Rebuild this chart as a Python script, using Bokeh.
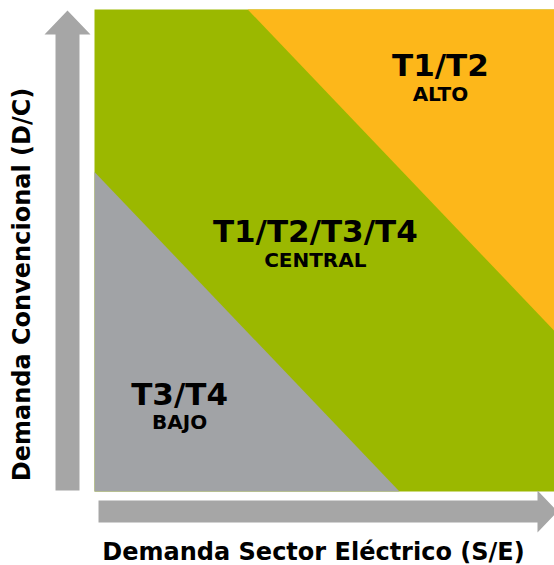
import math
from bokeh.plotting import figure
from bokeh.models import Range1d, ColumnDataSource
from bokeh.core.properties import value
from bokeh.embed import file_html
from bokeh.resources import INLINE

# ---- data (demand space normalised 0..1 on both axes) ----
scenario_titles = ["T1/T2", "T1/T2/T3/T4", "T3/T4"]
scenario_levels = ["ALTO", "CENTRAL", "BAJO"]
region_colors = ["#FDB71A", "#9BB800", "#A1A3A6"]
# boundaries: x + y = threshold
low_threshold = 0.663
high_threshold = 1.333
x_axis_label = "Demanda Sector Eléctrico (S/E)"
y_axis_label = "Demanda Convencional (D/C)"

# ---- layout (label anchor positions in the same normalised space) ----
title_x = [0.752, 0.480, 0.185]
title_y = [0.884, 0.540, 0.203]
level_y_offset = 0.059
ARROW = "#A6A6A6"
FONT = "DejaVu Sans"


def px(v):
    return (v - 94) / 460


def py(v):
    return (491 - v) / 482


p = figure(width=554, height=565, output_backend="svg", toolbar_location=None,
           x_range=Range1d(px(0), px(554)), y_range=Range1d(py(565), py(0)),
           min_border=0)
p.axis.visible = False
p.grid.visible = False
p.outline_line_color = None
p.background_fill_color = "white"
p.border_fill_color = "white"

# central (full square)
p.patch([0, 1, 1, 0], [0, 0, py(9), py(9)], fill_color=region_colors[1], line_color=None)
# high (top-right triangle)
h = high_threshold - 1
p.patch([h, 1, 1], [py(9), py(9), h], fill_color=region_colors[0], line_color=None)
# low (bottom-left triangle)
l = low_threshold
p.patch([0, l, 0], [0, 0, l], fill_color=region_colors[2], line_color=None)

# vertical arrow
vx0, vx1, hx0, hx1 = px(55), px(79), px(44), px(90)
vyb, vyh, vyt = py(490), py(34), py(10)
p.patch([vx0, vx1, vx1, hx1, (hx0 + hx1) / 2, hx0, vx0],
        [vyb, vyb, vyh, vyh, vyt, vyh, vyh], fill_color=ARROW, line_color=None)
# horizontal arrow
sy0, sy1, hy0, hy1 = py(500), py(522), py(490), py(532)
sxl, sxh, sxt = px(98), px(537), px(557)
p.patch([sxl, sxh, sxh, sxt, sxh, sxh, sxl],
        [sy0, sy0, hy0, (hy0 + hy1) / 2, hy1, sy1, sy1], fill_color=ARROW, line_color=None)

src = ColumnDataSource(dict(x=title_x, y=title_y, t=scenario_titles,
                            ly=[v - level_y_offset for v in title_y], lv=scenario_levels))
p.text(x="x", y="y", text="t", source=src, text_font=value(FONT), text_font_style="bold",
       text_font_size=value("31px"), text_align="center", text_baseline="alphabetic",
       text_color="black")
p.text(x="x", y="ly", text="lv", source=src, text_font=value(FONT), text_font_style="bold",
       text_font_size=value("20px"), text_align="center", text_baseline="alphabetic",
       text_color="black")

p.text(x=[px(313)], y=[py(551)], text=[x_axis_label], text_font=value(FONT),
       text_font_style="bold", text_font_size=value("24px"), text_align="center",
       text_baseline="alphabetic", text_color="black")
p.text(x=[px(21)], y=[py(284)], text=[y_axis_label], angle=math.pi / 2,
       text_font=value(FONT), text_font_style="bold", text_font_size=value("24px"),
       text_align="center", text_baseline="alphabetic", text_color="black")

open("out.html", "w").write(file_html(p, INLINE))
